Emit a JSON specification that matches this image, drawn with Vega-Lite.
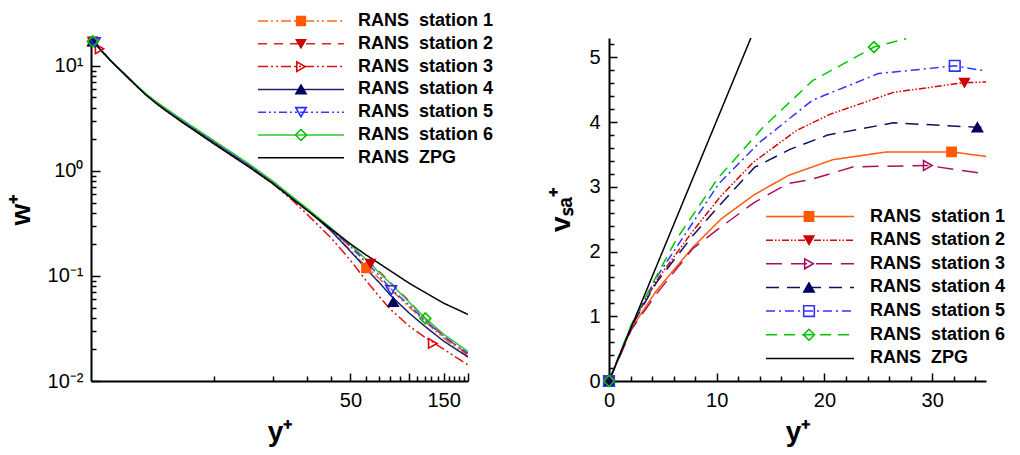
{
  "$schema": "https://vega.github.io/schema/vega-lite/v6.json",
  "padding": {"left": 7, "top": 12, "right": 5, "bottom": 5},
  "background": "white",
  "spacing": 141,
  "bounds": "flush",
  "datasets": {
    "leftLines": [
      {"series": "station 1", "x": 2.4, "y": 17.06}, {"series": "station 1", "x": 3, "y": 10.94}, {"series": "station 1", "x": 4, "y": 6.5}, {"series": "station 1", "x": 4.5, "y": 5.32}, {"series": "station 1", "x": 5, "y": 4.56}, {"series": "station 1", "x": 5.6, "y": 3.9}, {"series": "station 1", "x": 7, "y": 2.92}, {"series": "station 1", "x": 10, "y": 1.86}, {"series": "station 1", "x": 15, "y": 1.13}, {"series": "station 1", "x": 20, "y": 0.78}, {"series": "station 1", "x": 30, "y": 0.43}, {"series": "station 1", "x": 40, "y": 0.272}, {"series": "station 1", "x": 50, "y": 0.175}, {"series": "station 1", "x": 60, "y": 0.124}, {"series": "station 1", "x": 70, "y": 0.0951}, {"series": "station 1", "x": 80, "y": 0.0748}, {"series": "station 1", "x": 100, "y": 0.0505}, {"series": "station 1", "x": 120, "y": 0.0372}, {"series": "station 1", "x": 150, "y": 0.0256}, {"series": "station 1", "x": 200, "y": 0.0172},
      {"series": "station 2", "x": 2.4, "y": 17.06}, {"series": "station 2", "x": 3, "y": 10.94}, {"series": "station 2", "x": 4, "y": 6.5}, {"series": "station 2", "x": 4.5, "y": 5.32}, {"series": "station 2", "x": 5, "y": 4.56}, {"series": "station 2", "x": 5.6, "y": 3.9}, {"series": "station 2", "x": 7, "y": 2.92}, {"series": "station 2", "x": 10, "y": 1.86}, {"series": "station 2", "x": 15, "y": 1.13}, {"series": "station 2", "x": 20, "y": 0.78}, {"series": "station 2", "x": 30, "y": 0.43}, {"series": "station 2", "x": 40, "y": 0.277}, {"series": "station 2", "x": 50, "y": 0.191}, {"series": "station 2", "x": 60, "y": 0.144}, {"series": "station 2", "x": 70, "y": 0.111}, {"series": "station 2", "x": 80, "y": 0.0871}, {"series": "station 2", "x": 100, "y": 0.0575}, {"series": "station 2", "x": 120, "y": 0.0396}, {"series": "station 2", "x": 150, "y": 0.0267}, {"series": "station 2", "x": 200, "y": 0.0178},
      {"series": "station 3", "x": 2.4, "y": 17.06}, {"series": "station 3", "x": 3, "y": 10.94}, {"series": "station 3", "x": 4, "y": 6.47}, {"series": "station 3", "x": 4.5, "y": 5.27}, {"series": "station 3", "x": 5, "y": 4.51}, {"series": "station 3", "x": 5.6, "y": 3.85}, {"series": "station 3", "x": 7, "y": 2.87}, {"series": "station 3", "x": 10, "y": 1.83}, {"series": "station 3", "x": 15, "y": 1.11}, {"series": "station 3", "x": 20, "y": 0.758}, {"series": "station 3", "x": 25, "y": 0.534}, {"series": "station 3", "x": 30, "y": 0.386}, {"series": "station 3", "x": 40, "y": 0.228}, {"series": "station 3", "x": 50, "y": 0.141}, {"series": "station 3", "x": 60, "y": 0.091}, {"series": "station 3", "x": 70, "y": 0.0641}, {"series": "station 3", "x": 80, "y": 0.0483}, {"series": "station 3", "x": 100, "y": 0.0333}, {"series": "station 3", "x": 120, "y": 0.0262}, {"series": "station 3", "x": 150, "y": 0.0201}, {"series": "station 3", "x": 200, "y": 0.0142},
      {"series": "station 4", "x": 2.4, "y": 17.06}, {"series": "station 4", "x": 3, "y": 10.94}, {"series": "station 4", "x": 4, "y": 6.55}, {"series": "station 4", "x": 4.5, "y": 5.35}, {"series": "station 4", "x": 5, "y": 4.6}, {"series": "station 4", "x": 5.6, "y": 3.94}, {"series": "station 4", "x": 7, "y": 2.95}, {"series": "station 4", "x": 10, "y": 1.88}, {"series": "station 4", "x": 15, "y": 1.14}, {"series": "station 4", "x": 20, "y": 0.79}, {"series": "station 4", "x": 30, "y": 0.43}, {"series": "station 4", "x": 40, "y": 0.266}, {"series": "station 4", "x": 50, "y": 0.172}, {"series": "station 4", "x": 60, "y": 0.118}, {"series": "station 4", "x": 70, "y": 0.0871}, {"series": "station 4", "x": 80, "y": 0.0657}, {"series": "station 4", "x": 100, "y": 0.0443}, {"series": "station 4", "x": 120, "y": 0.0333}, {"series": "station 4", "x": 150, "y": 0.024}, {"series": "station 4", "x": 200, "y": 0.0169},
      {"series": "station 5", "x": 2.4, "y": 17.06}, {"series": "station 5", "x": 3, "y": 10.94}, {"series": "station 5", "x": 4, "y": 6.55}, {"series": "station 5", "x": 4.5, "y": 5.35}, {"series": "station 5", "x": 5, "y": 4.6}, {"series": "station 5", "x": 5.6, "y": 3.94}, {"series": "station 5", "x": 7, "y": 2.95}, {"series": "station 5", "x": 10, "y": 1.88}, {"series": "station 5", "x": 15, "y": 1.14}, {"series": "station 5", "x": 20, "y": 0.79}, {"series": "station 5", "x": 30, "y": 0.43}, {"series": "station 5", "x": 40, "y": 0.277}, {"series": "station 5", "x": 50, "y": 0.191}, {"series": "station 5", "x": 60, "y": 0.135}, {"series": "station 5", "x": 70, "y": 0.1016}, {"series": "station 5", "x": 80, "y": 0.0764}, {"series": "station 5", "x": 100, "y": 0.0527}, {"series": "station 5", "x": 120, "y": 0.0379}, {"series": "station 5", "x": 150, "y": 0.0267}, {"series": "station 5", "x": 200, "y": 0.0183},
      {"series": "station 6", "x": 2.4, "y": 17.06}, {"series": "station 6", "x": 3, "y": 10.94}, {"series": "station 6", "x": 4, "y": 6.6}, {"series": "station 6", "x": 4.5, "y": 5.38}, {"series": "station 6", "x": 5, "y": 4.65}, {"series": "station 6", "x": 5.6, "y": 4.0}, {"series": "station 6", "x": 7, "y": 3.01}, {"series": "station 6", "x": 10, "y": 1.94}, {"series": "station 6", "x": 15, "y": 1.18}, {"series": "station 6", "x": 20, "y": 0.8}, {"series": "station 6", "x": 30, "y": 0.44}, {"series": "station 6", "x": 40, "y": 0.284}, {"series": "station 6", "x": 50, "y": 0.2}, {"series": "station 6", "x": 60, "y": 0.144}, {"series": "station 6", "x": 70, "y": 0.108}, {"series": "station 6", "x": 80, "y": 0.0853}, {"series": "station 6", "x": 100, "y": 0.0562}, {"series": "station 6", "x": 120, "y": 0.0401}, {"series": "station 6", "x": 150, "y": 0.0279}, {"series": "station 6", "x": 200, "y": 0.0191},
      {"series": "ZPG", "x": 2.4, "y": 17.06}, {"series": "ZPG", "x": 3, "y": 10.94}, {"series": "ZPG", "x": 4, "y": 6.47}, {"series": "ZPG", "x": 4.5, "y": 5.27}, {"series": "ZPG", "x": 5, "y": 4.47}, {"series": "ZPG", "x": 5.6, "y": 3.81}, {"series": "ZPG", "x": 7, "y": 2.84}, {"series": "ZPG", "x": 10, "y": 1.81}, {"series": "ZPG", "x": 15, "y": 1.1}, {"series": "ZPG", "x": 20, "y": 0.758}, {"series": "ZPG", "x": 30, "y": 0.421}, {"series": "ZPG", "x": 40, "y": 0.277}, {"series": "ZPG", "x": 50, "y": 0.202}, {"series": "ZPG", "x": 60, "y": 0.159}, {"series": "ZPG", "x": 70, "y": 0.132}, {"series": "ZPG", "x": 80, "y": 0.112}, {"series": "ZPG", "x": 100, "y": 0.0853}, {"series": "ZPG", "x": 120, "y": 0.07}, {"series": "ZPG", "x": 150, "y": 0.0551}, {"series": "ZPG", "x": 200, "y": 0.043}
    ],
    "leftMarks": [
      {"mseries": "station 1", "x": 2.4, "y": 17.06}, {"mseries": "station 1", "x": 60.3, "y": 0.119},
      {"mseries": "station 2", "x": 2.4, "y": 17.06}, {"mseries": "station 2", "x": 63.4, "y": 0.131},
      {"mseries": "station 3", "x": 2.6, "y": 14.5}, {"mseries": "station 3", "x": 132, "y": 0.0228},
      {"mseries": "station 4", "x": 2.4, "y": 17.06}, {"mseries": "station 4", "x": 82.8, "y": 0.0566},
      {"mseries": "station 5", "x": 2.46, "y": 16.7}, {"mseries": "station 5", "x": 80.9, "y": 0.073},
      {"mseries": "station 6", "x": 2.4, "y": 17.1}, {"mseries": "station 6", "x": 121, "y": 0.0394}
    ],
    "rightLines": [
      {"curve": "station 1", "x": 0, "y": 0}, {"curve": "station 1", "x": 2.1, "y": 0.82}, {"curve": "station 1", "x": 4.42, "y": 1.4}, {"curve": "station 1", "x": 7.8, "y": 2.07}, {"curve": "station 1", "x": 10.45, "y": 2.51}, {"curve": "station 1", "x": 13.5, "y": 2.88}, {"curve": "station 1", "x": 16.7, "y": 3.18}, {"curve": "station 1", "x": 20.8, "y": 3.42}, {"curve": "station 1", "x": 25.8, "y": 3.54}, {"curve": "station 1", "x": 31.8, "y": 3.54}, {"curve": "station 1", "x": 35, "y": 3.47},
      {"curve": "station 2", "x": 0, "y": 0}, {"curve": "station 2", "x": 2.1, "y": 0.86}, {"curve": "station 2", "x": 4.4, "y": 1.55}, {"curve": "station 2", "x": 7.8, "y": 2.32}, {"curve": "station 2", "x": 10.4, "y": 2.86}, {"curve": "station 2", "x": 13.4, "y": 3.38}, {"curve": "station 2", "x": 17.4, "y": 3.87}, {"curve": "station 2", "x": 20.5, "y": 4.12}, {"curve": "station 2", "x": 26.4, "y": 4.46}, {"curve": "station 2", "x": 33, "y": 4.61}, {"curve": "station 2", "x": 35, "y": 4.62},
      {"curve": "station 3", "x": 0, "y": 0}, {"curve": "station 3", "x": 2.1, "y": 0.8}, {"curve": "station 3", "x": 4.42, "y": 1.35}, {"curve": "station 3", "x": 7.8, "y": 2.05}, {"curve": "station 3", "x": 10, "y": 2.33}, {"curve": "station 3", "x": 13.4, "y": 2.75}, {"curve": "station 3", "x": 16.6, "y": 3.05}, {"curve": "station 3", "x": 18.65, "y": 3.11}, {"curve": "station 3", "x": 22.7, "y": 3.31}, {"curve": "station 3", "x": 29.6, "y": 3.33}, {"curve": "station 3", "x": 35, "y": 3.2},
      {"curve": "station 4", "x": 0, "y": 0}, {"curve": "station 4", "x": 2.1, "y": 0.85}, {"curve": "station 4", "x": 4.4, "y": 1.52}, {"curve": "station 4", "x": 7.8, "y": 2.25}, {"curve": "station 4", "x": 10.4, "y": 2.74}, {"curve": "station 4", "x": 13.5, "y": 3.3}, {"curve": "station 4", "x": 16.8, "y": 3.58}, {"curve": "station 4", "x": 20.3, "y": 3.8}, {"curve": "station 4", "x": 26.4, "y": 3.99}, {"curve": "station 4", "x": 34.2, "y": 3.92}, {"curve": "station 4", "x": 35, "y": 3.92},
      {"curve": "station 5", "x": 0, "y": 0}, {"curve": "station 5", "x": 2.1, "y": 0.87}, {"curve": "station 5", "x": 4.4, "y": 1.6}, {"curve": "station 5", "x": 7.8, "y": 2.45}, {"curve": "station 5", "x": 10.2, "y": 3.05}, {"curve": "station 5", "x": 14, "y": 3.69}, {"curve": "station 5", "x": 18.9, "y": 4.34}, {"curve": "station 5", "x": 25, "y": 4.75}, {"curve": "station 5", "x": 32.1, "y": 4.87}, {"curve": "station 5", "x": 35, "y": 4.79},
      {"curve": "station 6", "x": 0, "y": 0}, {"curve": "station 6", "x": 2.1, "y": 0.88}, {"curve": "station 6", "x": 4.4, "y": 1.62}, {"curve": "station 6", "x": 6.3, "y": 2.2}, {"curve": "station 6", "x": 10.1, "y": 3.13}, {"curve": "station 6", "x": 14.3, "y": 3.92}, {"curve": "station 6", "x": 18.9, "y": 4.64}, {"curve": "station 6", "x": 24.6, "y": 5.16}, {"curve": "station 6", "x": 27.6, "y": 5.29},
      {"curve": "ZPG", "x": 0, "y": 0}, {"curve": "ZPG", "x": 13.17, "y": 5.3}
    ],
    "rightMarks": [
      {"mcurve": "station 1", "x": 0, "y": 0}, {"mcurve": "station 1", "x": 31.8, "y": 3.54},
      {"mcurve": "station 2", "x": 0, "y": 0}, {"mcurve": "station 2", "x": 33, "y": 4.61},
      {"mcurve": "station 3", "x": 0, "y": 0}, {"mcurve": "station 3", "x": 29.6, "y": 3.33},
      {"mcurve": "station 4", "x": 0, "y": 0}, {"mcurve": "station 4", "x": 34.2, "y": 3.92},
      {"mcurve": "station 5", "x": 0, "y": 0}, {"mcurve": "station 5", "x": 32.1, "y": 4.87},
      {"mcurve": "station 6", "x": 0, "y": 0}, {"mcurve": "station 6", "x": 24.6, "y": 5.16}
    ]
  },
  "hconcat": [
    {
      "width": 377,
      "height": 343,
      "layer": [
        {
          "data": {"name": "leftLines"},
          "mark": {"type": "line", "clip": true},
          "encoding": {
            "x": {"field": "x", "type": "quantitative", "scale": {"type": "log", "domain": [2.35, 200], "nice": false},
              "axis": {"orient": "bottom", "values": [50, 100, 150, 200], "labelExpr": "datum.value == 50 || datum.value == 150 ? datum.value + '' : ''", "tickSize": -8, "labelPadding": 17, "title": "y⁺", "titlePadding": 8}},
            "y": {"field": "y", "type": "quantitative", "scale": {"type": "log", "domain": [0.01, 18.4], "nice": false},
              "axis": {"orient": "left", "values": [0.01, 0.1, 1, 10], "labelExpr": "datum.value >= 5 ? '10¹' : datum.value >= 0.5 ? '10⁰' : datum.value >= 0.05 ? '10⁻¹' : '10⁻²'", "tickSize": -9, "labelPadding": 17, "title": "w⁺", "titlePadding": 12}},
            "strokeWidth": {"field": "series", "type": "ordinal",
              "scale": {"domain": ["station 1", "station 2", "station 3", "station 4", "station 5", "station 6", "ZPG"], "range": [1.5, 1.5, 1.5, 1.5, 1.5, 1.5, 2.1]},
              "legend": null},
            "color": {"field": "series", "type": "nominal",
              "scale": {"domain": ["station 1", "station 2", "station 3", "station 4", "station 5", "station 6", "ZPG"], "range": ["#FF6A1A", "#E02020", "#E01010", "#202070", "#3A3AFF", "#30C830", "#000000"]},
              "legend": {"orient": "none", "legendX": 166, "legendY": -26, "title": null, "clipHeight": 18, "symbolType": "stroke", "symbolSize": 7396, "symbolStrokeWidth": 1.6, "labelFontSize": 18, "labelFontWeight": "bold", "labelColor": "#000", "labelOffset": 13, "rowPadding": 4.8, "labelLimit": 300, "labelExpr": "'RANS\u00a0 ' + datum.label"}},
            "strokeDash": {"field": "series", "type": "nominal",
              "scale": {"domain": ["station 1", "station 2", "station 3", "station 4", "station 5", "station 6", "ZPG"], "range": [[10, 3, 2, 3, 2, 3], [9, 7], [10, 3, 2, 3, 2, 3], [1, 0], [8, 3, 2, 3, 2, 3], [1, 0], [1, 0]]},
              "legend": {"orient": "none", "legendX": 166, "legendY": -26, "title": null, "clipHeight": 18, "symbolType": "stroke", "symbolSize": 7396, "symbolStrokeWidth": 1.6, "labelFontSize": 18, "labelFontWeight": "bold", "labelColor": "#000", "labelOffset": 13, "rowPadding": 4.8, "labelLimit": 300, "labelExpr": "'RANS\u00a0 ' + datum.label"}}
          }
        },
        {
          "data": {"name": "leftMarks"},
          "mark": {"type": "point", "strokeWidth": 1.6, "opacity": 1},
          "encoding": {
            "x": {"field": "x", "type": "quantitative",
              "axis": {"orient": "bottom", "values": [10, 20, 30, 40, 60, 70, 80, 90, 110, 120, 130, 140, 160, 170, 180, 190], "labels": false, "domain": false, "tickSize": -5, "title": null}},
            "y": {"field": "y", "type": "quantitative",
              "axis": {"orient": "left", "values": [0.02, 0.03, 0.04, 0.05, 0.06, 0.07, 0.08, 0.09, 0.2, 0.3, 0.4, 0.5, 0.6, 0.7, 0.8, 0.9, 2, 3, 4, 5, 6, 7, 8, 9], "labels": false, "domain": false, "tickSize": -5, "title": null}},
            "shape": {"field": "mseries", "type": "nominal",
              "scale": {"domain": ["station 1", "station 2", "station 3", "station 4", "station 5", "station 6"], "range": ["square", "triangle-down", "triangle-right", "triangle-up", "triangle-down", "diamond"]},
              "legend": {"orient": "none", "legendX": 201, "legendY": -26, "title": null, "clipHeight": 18, "symbolStrokeWidth": 1.6, "labelFontSize": 18, "labelExpr": "''", "labelOffset": 13, "rowPadding": 4.8}},
            "size": {"field": "mseries", "type": "ordinal",
              "scale": {"domain": ["station 1", "station 2", "station 3", "station 4", "station 5", "station 6"], "range": [75, 120, 120, 120, 120, 170]},
              "legend": {"orient": "none", "legendX": 201, "legendY": -26, "title": null, "clipHeight": 18, "symbolStrokeWidth": 1.6, "labelFontSize": 18, "labelExpr": "''", "labelOffset": 13, "rowPadding": 4.8}},
            "fill": {"field": "mseries", "type": "nominal",
              "scale": {"domain": ["station 1", "station 2", "station 3", "station 4", "station 5", "station 6"], "range": ["#FF5A00", "#CC0000", "transparent", "#000060", "transparent", "transparent"]},
              "legend": {"orient": "none", "legendX": 201, "legendY": -26, "title": null, "clipHeight": 18, "symbolStrokeWidth": 1.6, "labelFontSize": 18, "labelExpr": "''", "labelOffset": 13, "rowPadding": 4.8}},
            "stroke": {"field": "mseries", "type": "nominal",
              "scale": {"domain": ["station 1", "station 2", "station 3", "station 4", "station 5", "station 6"], "range": ["#FF5A00", "#CC0000", "#DD0000", "#000060", "#2A2AFF", "#00C000"]},
              "legend": {"orient": "none", "legendX": 201, "legendY": -26, "title": null, "clipHeight": 18, "symbolStrokeWidth": 1.6, "labelFontSize": 18, "labelExpr": "''", "labelOffset": 13, "rowPadding": 4.8}}
          }
        }
      ],
      "resolve": {"axis": {"x": "independent", "y": "independent"}}
    },
    {
      "width": 377,
      "height": 343,
      "layer": [
        {
          "data": {"name": "rightLines"},
          "mark": {"type": "line", "clip": true},
          "encoding": {
            "x": {"field": "x", "type": "quantitative", "scale": {"domain": [0, 35], "nice": false},
              "axis": {"orient": "bottom", "values": [0, 10, 20, 30], "tickSize": -8, "labelPadding": 17, "title": "y⁺", "titlePadding": 8}},
            "y": {"field": "y", "type": "quantitative", "scale": {"domain": [0, 5.3], "nice": false},
              "axis": {"orient": "left", "values": [0, 1, 2, 3, 4, 5], "tickSize": -8, "labelPadding": 17, "title": "vₛₐ⁺", "titlePadding": 13}},
            "strokeWidth": {"field": "curve", "type": "ordinal",
              "scale": {"domain": ["station 1", "station 2", "station 3", "station 4", "station 5", "station 6", "ZPG"], "range": [1.5, 1.5, 1.5, 1.5, 1.5, 1.5, 2.1]},
              "legend": null},
            "color": {"field": "curve", "type": "nominal",
              "scale": {"domain": ["station 1", "station 2", "station 3", "station 4", "station 5", "station 6", "ZPG"], "range": ["#FF5A0A", "#DD0000", "#A8105E", "#101060", "#3333FF", "#00C800", "#000000"]},
              "legend": {"orient": "none", "legendX": 156, "legendY": 169.5, "title": null, "clipHeight": 18, "symbolType": "stroke", "symbolSize": 7744, "symbolStrokeWidth": 1.6, "labelFontSize": 18, "labelFontWeight": "bold", "labelColor": "#000", "labelOffset": 15, "rowPadding": 5.65, "labelLimit": 300, "labelExpr": "'RANS\u00a0 ' + datum.label"}},
            "strokeDash": {"field": "curve", "type": "nominal",
              "scale": {"domain": ["station 1", "station 2", "station 3", "station 4", "station 5", "station 6", "ZPG"], "range": [[1, 0], [7, 2, 1.5, 2, 1.5, 2], [16, 9], [13, 8], [9, 4, 2, 4], [11, 7], [1, 0]]},
              "legend": {"orient": "none", "legendX": 156, "legendY": 169.5, "title": null, "clipHeight": 18, "symbolType": "stroke", "symbolSize": 7744, "symbolStrokeWidth": 1.6, "labelFontSize": 18, "labelFontWeight": "bold", "labelColor": "#000", "labelOffset": 15, "rowPadding": 5.65, "labelLimit": 300, "labelExpr": "'RANS\u00a0 ' + datum.label"}}
          }
        },
        {
          "data": {"name": "rightMarks"},
          "mark": {"type": "point", "strokeWidth": 1.6, "opacity": 1, "clip": false},
          "encoding": {
            "x": {"field": "x", "type": "quantitative",
              "axis": {"orient": "bottom", "values": [2, 4, 6, 8, 12, 14, 16, 18, 22, 24, 26, 28, 32, 34], "labels": false, "domain": false, "tickSize": -5, "title": null}},
            "y": {"field": "y", "type": "quantitative",
              "axis": {"orient": "left", "values": [0.2, 0.4, 0.6, 0.8, 1.2, 1.4, 1.6, 1.8, 2.2, 2.4, 2.6, 2.8, 3.2, 3.4, 3.6, 3.8, 4.2, 4.4, 4.6, 4.8, 5.2], "labels": false, "domain": false, "tickSize": -5, "title": null}},
            "shape": {"field": "mcurve", "type": "nominal",
              "scale": {"domain": ["station 1", "station 2", "station 3", "station 4", "station 5", "station 6"], "range": ["square", "triangle-down", "triangle-right", "triangle-up", "square", "diamond"]},
              "legend": {"orient": "none", "legendX": 191, "legendY": 169.5, "title": null, "clipHeight": 18, "symbolStrokeWidth": 1.6, "labelFontSize": 18, "labelExpr": "''", "labelOffset": 15, "rowPadding": 5.65}},
            "size": {"field": "mcurve", "type": "ordinal",
              "scale": {"domain": ["station 1", "station 2", "station 3", "station 4", "station 5", "station 6"], "range": [85, 120, 120, 120, 100, 170]},
              "legend": {"orient": "none", "legendX": 191, "legendY": 169.5, "title": null, "clipHeight": 18, "symbolStrokeWidth": 1.6, "labelFontSize": 18, "labelExpr": "''", "labelOffset": 15, "rowPadding": 5.65}},
            "fill": {"field": "mcurve", "type": "nominal",
              "scale": {"domain": ["station 1", "station 2", "station 3", "station 4", "station 5", "station 6"], "range": ["#FF5A00", "#CC0000", "transparent", "#000060", "transparent", "transparent"]},
              "legend": {"orient": "none", "legendX": 191, "legendY": 169.5, "title": null, "clipHeight": 18, "symbolStrokeWidth": 1.6, "labelFontSize": 18, "labelExpr": "''", "labelOffset": 15, "rowPadding": 5.65}},
            "stroke": {"field": "mcurve", "type": "nominal",
              "scale": {"domain": ["station 1", "station 2", "station 3", "station 4", "station 5", "station 6"], "range": ["#FF5A00", "#CC0000", "#A8105E", "#000060", "#3333FF", "#00C000"]},
              "legend": {"orient": "none", "legendX": 191, "legendY": 169.5, "title": null, "clipHeight": 18, "symbolStrokeWidth": 1.6, "labelFontSize": 18, "labelExpr": "''", "labelOffset": 15, "rowPadding": 5.65}}
          }
        }
      ],
      "resolve": {"axis": {"x": "independent", "y": "independent"}}
    }
  ],
  "resolve": {"scale": {"color": "independent", "strokeDash": "independent", "strokeWidth": "independent", "shape": "independent", "size": "independent", "fill": "independent", "stroke": "independent"}},
  "config": {
    "view": {"stroke": null},
    "font": "Liberation Sans",
    "axis": {"grid": false, "domainColor": "#000", "domainWidth": 2, "tickColor": "#000", "tickWidth": 1.5, "labelColor": "#000", "labelFont": "Liberation Sans", "labelFontSize": 20, "titleFont": "Liberation Sans", "titleFontSize": 28, "titleFontWeight": "bold", "titleColor": "#000", "labelFlush": false, "labelOverlap": false, "labelBound": false},
    "legend": {"labelFont": "Liberation Sans"}
  }
}
